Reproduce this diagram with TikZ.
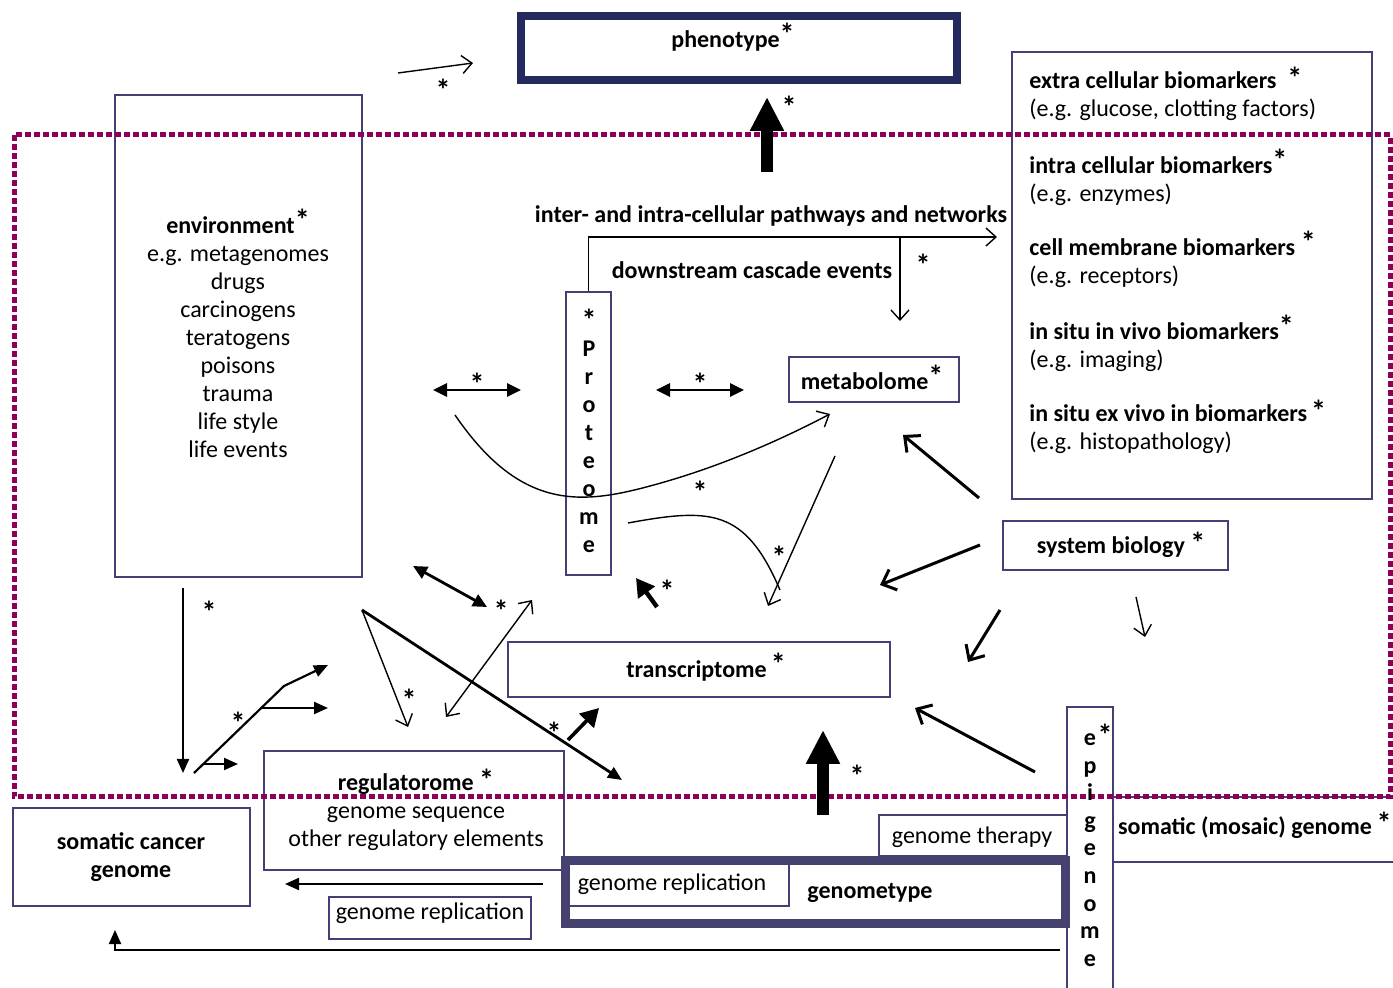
\documentclass[tikz,border=0pt]{standalone}
\usepackage{fontspec}
\setmainfont{Carlito}
\usetikzlibrary{arrows.meta,fit}
\definecolor{boxblue}{RGB}{66,64,118}
\definecolor{darkblue}{RGB}{36,42,94}
\definecolor{dotpurple}{RGB}{140,0,88}
\newcommand\bstar{{\fontsize{15}{14}\selectfont *}}
\newcommand\supstar{\raisebox{1.5pt}{\fontsize{15}{14}\selectfont *}}
\tikzset{
	box/.style={draw=boxblue, line width=1.2pt, inner sep=0pt},
	lbl/.style={font=\fontsize{12}{14}\selectfont, inner sep=0pt, align=center},
	bl/.style={lbl, font=\fontsize{12}{14}\selectfont\bfseries},
	st/.style={font=\fontsize{15}{15}\selectfont\bfseries, inner sep=0pt},
	thinarr/.style={line width=0.7pt, -{Straight Barb[length=5pt,width=9pt]}},
	thindbl/.style={line width=0.7pt, {Straight Barb[length=5pt,width=9pt]}-{Straight Barb[length=5pt,width=9pt]}},
	barbarr/.style={line width=1.5pt, -{Straight Barb[length=6pt,width=11pt]}},
	filarr/.style={line width=1.1pt, -{Triangle[length=7pt,width=6pt]}},
	dblarr/.style={line width=1.4pt, {Triangle[length=7pt,width=6.5pt]}-{Triangle[length=7pt,width=6.5pt]}},
	heavyarr/.style={line width=2.2pt, -{Triangle[length=9pt,width=10pt]}},
	bigarr/.style={line width=6pt, -{Triangle[length=17pt,width=16pt]}},
	dotbox/.style={draw=dotpurple, line width=2.5pt, dash pattern=on 3pt off 1.5pt},
}

\begin{document}
\begin{tikzpicture}[x=0.5pt,y=-0.5pt]
	%%%%% START %%%%%
	\useasboundingbox (0,0) rectangle (1393,988);
	
	% boxes
	\node[box, draw=darkblue, line width=4pt, fit={(521,16) (957,80)}] (phen) {};
	\node[box, fit={(115,95) (362,577)}] (env) {};
	\node[box, fit={(1012,52) (1372,499)}] (bio) {};
	\node[box, fit={(566,292) (611,575)}] (prot) {};
	\node[box, fit={(789,357) (959,402)}] (metab) {};
	\node[box, fit={(508,642) (890,697)}] (trans) {};
	\node[box, fit={(1003,521) (1228,570)}] (sysbio) {};
	\node[box, fit={(264,751) (564,870)}] (reg) {};
	\node[box, fit={(13,808) (250,906)}] (scg) {};
	\node[box, fit={(329,897) (531,939)}] (grep) {};
	\node[box, fill=white, fit={(879,815) (1067,856)}] (gther) {};
	\node[box, draw={rgb,255:red,70;green,66;blue,112}, line width=4.5pt, fit={(565.5,860.5) (1065.5,923.5)}] (geno) {};
	\node[box, fit={(569,864) (789,906)}] (genorep) {};
	\node[box, fit={(1067,707) (1113,994)}] (epi) {};
	\node[box, fit={(1113,797) (1398,862)}] (mosaic) {};
	
	\draw[dotbox] (14,135) rectangle (1390,797);
	
	% texts
	\node[bl] (phenlbl) at (733,37) {phenotype\supstar};
	\node[lbl] (envlbl) at (238,333) {\textbf{environment\supstar}\\e.g. metagenomes\\drugs\\carcinogens\\teratogens\\poisons\\trauma\\life style\\life events};
	\foreach \y/\a/\b [count=\i] in {94/{extra cellular biomarkers\ \ \bstar}/{(e.g. glucose, clotting factors)}, 177/{intra cellular biomarkers\supstar}/{(e.g. enzymes)}, 259/{cell membrane biomarkers\ \supstar}/{(e.g. receptors)}, 343/{in situ in vivo biomarkers\supstar}/{(e.g. imaging)}, 427/{in situ ex vivo in biomarkers\,\bstar}/{(e.g. histopathology)}}
		\node[lbl, anchor=west, align=left] (bio\i) at (1029,\y) {\textbf{\a}\\\b};
	\node[bl] (pathlbl) at (771,216) {inter- and intra-cellular pathways and networks};
	\node[bl] (downlbl) at (752,270) {downstream cascade events};
	\foreach \l [count=\i] in {P,r,o,t,e,o,m,e}
		\node[bl, anchor=base] (prot\i) at (589,{329+28*\i}) {\l};
	\node[bl] (metablbl) at (872,377) {metabolome\supstar};
	\node[bl] (translbl) at (706,667) {transcriptome\,\supstar};
	\node[bl] (sysbiolbl) at (1121,545) {system biology\ \bstar};
	\node[lbl] (reglbl) at (416,810) {\textbf{regulatorome\ \bstar}\\genome sequence\\other regulatory elements};
	\node[bl] (scglbl) at (131,857) {somatic cancer\\genome};
	\node[lbl] (greplbl) at (430,913) {genome replication};
	\node[lbl] (gtherlbl) at (972,837) {genome therapy};
	\node[lbl] (genoreplbl) at (672,884) {genome replication};
	\node[bl] (genolbl) at (870,893) {genometype};
	\node[bl] (mosaiclbl) at (1245,828) {somatic (mosaic) genome};
	\foreach \l [count=\i] in {e,p,i,g,e,n,o,m,e}
		\node[bl, anchor=base] (epi\i) at (1090,{718+27.6*\i}) {\l};
	\foreach \p [count=\i] in {(443,90),(789,107),(477,384),(700,384),(923,265),(700,492),(779,557),(667,591),(209,612),(501,611),(409,700),(238,723),(554,733),(857,776),(1105,735),(589,320),(1384,823)}
		\node[st] (star\i) at \p {*};
	
	% free ends of the arrows
	\path (398,73) coordinate (ph0) (473,63) coordinate (ph1)
		(767,172) coordinate (up0) (767,97) coordinate (up1)
		(823,815) coordinate (gup0) (823,730) coordinate (gup1)
		(997,237) coordinate (pathend) (900,237) coordinate (pathturn) (900,321) coordinate (cascend)
		(433,390) coordinate (d0) (521,390) coordinate (d1)
		(656,390) coordinate (d2) (744,390) coordinate (d3)
		(455,415) coordinate (cv0) (830,414) coordinate (cv1)
		(628,523) coordinate (cw0) (780,590) coordinate (cw1)
		(835,456) coordinate (v0) (768,606) coordinate (v1)
		(657,607) coordinate (h0) (636,578) coordinate (h1)
		(568,740) coordinate (h2) (599,708) coordinate (h3)
		(979,498) coordinate (s0) (903,435) coordinate (s1)
		(980,545) coordinate (s2) (880,585) coordinate (s3)
		(1000,610) coordinate (s4) (968,662) coordinate (s5)
		(1136,597) coordinate (s6) (1145,637) coordinate (s7)
		(1035,772) coordinate (s8) (915,708) coordinate (s9)
		(183,588) coordinate (e0) (183,773) coordinate (e1)
		(194,773) coordinate (f0) (284,686) coordinate (f1) (328,665) coordinate (f2)
		(262,708) coordinate (f3) (328,708) coordinate (f4)
		(204,764) coordinate (f5) (238,764) coordinate (f6)
		(413,566) coordinate (g0) (487,607) coordinate (g1)
		(532,600) coordinate (g2) (446,717) coordinate (g3)
		(362,610) coordinate (k0) (408,727) coordinate (k1) (622,780) coordinate (k2)
		(543,884) coordinate (r0) (285,884) coordinate (r1)
		(1060,950) coordinate (b0) (115,930) coordinate (b1);
	
	% arrows
	\draw[thinarr] (ph0) -- (ph1);
	\draw[bigarr] (up0) -- (up1);
	\draw[bigarr] (gup0) -- (gup1);
	\draw[thinarr] (prot.north) |- (pathend);
	\draw[thinarr] (pathturn) -- (cascend);
	\draw[dblarr] (d0) -- (d1);
	\draw[dblarr] (d2) -- (d3);
	\draw[thinarr] (cv0) .. controls (520,510) and (580,505) .. (650,486) .. controls (725,466) and (790,435) .. (cv1);
	\draw[line width=0.7pt] (cw0) .. controls (710,508) and (745,508) .. (cw1);
	\draw[thinarr] (v0) -- (v1);
	\draw[heavyarr] (h0) -- (h1);
	\draw[heavyarr, line width=1.8pt] (h2) -- (h3);
	\draw[barbarr] (s0) -- (s1);
	\draw[barbarr] (s2) -- (s3);
	\draw[barbarr] (s4) -- (s5);
	\draw[thinarr] (s6) -- (s7);
	\draw[barbarr] (s8) -- (s9);
	\draw[filarr] (e0) -- (e1);
	\draw[filarr] (f0) -- (f1) -- (f2);
	\draw[filarr] (f3) -- (f4);
	\draw[filarr] (f5) -- (f6);
	\draw[dblarr] (g0) -- (g1);
	\draw[thindbl] (g2) -- (g3);
	\draw[thinarr] (k0) -- (k1);
	\draw[filarr, line width=1.4pt] (k0) -- (k2);
	\draw[filarr] (r0) -- (r1);
	\draw[filarr] (b0) -| (b1);
	%%%%% END %%%%%
\end{tikzpicture}
\end{document}
